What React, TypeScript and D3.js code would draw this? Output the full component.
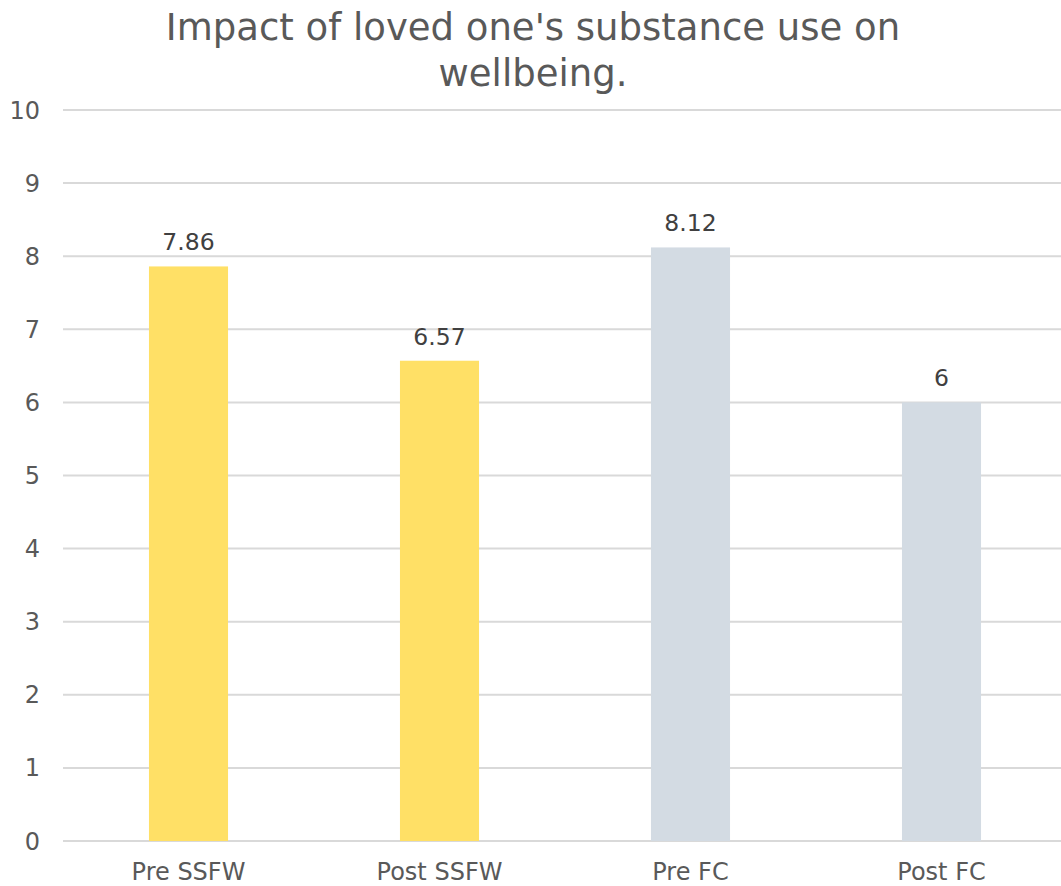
import React from "react";
import * as d3 from "d3";

const categories: string[] = ["Pre SSFW", "Post SSFW", "Pre FC", "Post FC"];
const values: number[] = [7.86, 6.57, 8.12, 6];
const valueLabels: string[] = ["7.86", "6.57", "8.12", "6"];
const barColors: string[] = ["#FFE066", "#FFE066", "#D3DBE3", "#D3DBE3"];
const yTicks: number[] = [0, 1, 2, 3, 4, 5, 6, 7, 8, 9, 10];
const titleLines: string[] = ["Impact of loved one's substance use on", "wellbeing."];

const W = 1061;
const H = 886;
const FONT = "Verdana, 'DejaVu Sans', sans-serif";

export default function App() {
  const x = d3.scaleBand<string>().domain(categories).range([63, 1067]).padding(0);
  const y = d3.scaleLinear().domain([0, 10]).range([841, 110]);
  const barW = x.bandwidth() * 0.315;

  return (
    <svg
      width={W}
      height={H}
      style={{ position: "absolute", left: 0, top: 0, background: "#fff" }}
      fontFamily={FONT}
    >
      <rect x={0} y={0} width={W} height={H} fill="#fff" />
      {titleLines.map((t, i) => (
        <text
          key={i}
          x={533}
          y={40 + i * 46}
          textAnchor="middle"
          fontSize={37}
          fill="#595959"
        >
          {t}
        </text>
      ))}
      {yTicks.map((t) => (
        <g key={t}>
          <line x1={63} x2={W} y1={y(t)} y2={y(t)} stroke="#D9D9D9" strokeWidth={2} />
          <text x={40} y={y(t) + 8.5} textAnchor="end" fontSize={24} fill="#595959">
            {t}
          </text>
        </g>
      ))}
      {categories.map((c, i) => {
        const cx = (x(c) as number) + x.bandwidth() / 2;
        return (
          <g key={c}>
            <rect
              x={cx - barW / 2}
              y={y(values[i])}
              width={barW}
              height={y(0) - y(values[i])}
              fill={barColors[i]}
            />
            <text x={cx} y={y(values[i]) - 16} textAnchor="middle" fontSize={23.5} fill="#404040">
              {valueLabels[i]}
            </text>
            <text x={cx} y={880} textAnchor="middle" fontSize={24} fill="#595959">
              {c}
            </text>
          </g>
        );
      })}
    </svg>
  );
}
